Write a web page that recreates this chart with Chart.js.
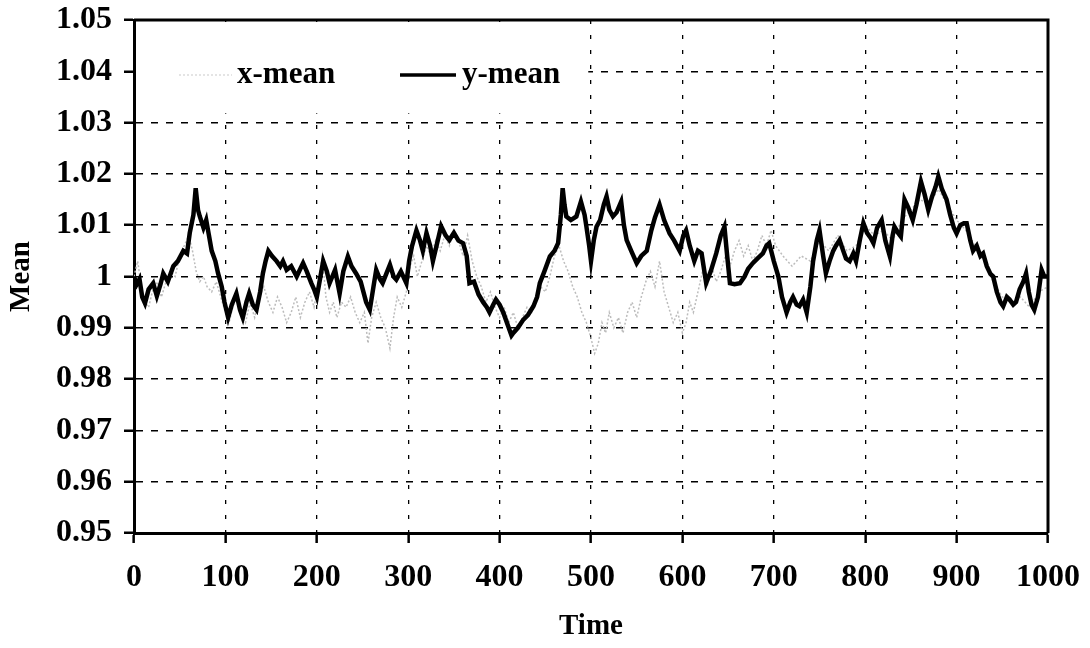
<!DOCTYPE html>
<html>
<head>
<meta charset="utf-8">
<title>Mean over time</title>
<script src="https://cdn.jsdelivr.net/npm/chart.js@4.4.1/dist/chart.umd.min.js"></script>
<style>
    html, body { margin: 0; padding: 0; background: #fff; }
    #chart { display: block; }
</style>
</head>
<body>
<canvas id="chart" width="1090" height="648"></canvas>
<script>
// --- Data ---
const yTickValues = [0.95, 0.96, 0.97, 0.98, 0.99, 1.00, 1.01, 1.02, 1.03, 1.04, 1.05];
const xTickValues = [0, 100, 200, 300, 400, 500, 600, 700, 800, 900, 1000];

const yMeanTimes = [
    0, 3, 6, 9, 12, 16, 21, 25, 29, 32, 37, 43, 48, 54, 58, 61, 65, 67.5, 70, 72,
    76, 79, 82, 85, 89, 92, 96, 99, 103, 107, 112, 116, 119, 123, 126, 130, 134, 138, 141, 144,
    147, 151, 156, 160, 163, 167, 172, 178, 182, 185, 189, 194, 197, 200, 204, 207, 211, 214, 217, 220,
    225, 229, 234, 238, 243, 248, 254, 258, 262, 265, 269, 272, 276, 280, 284, 287, 292, 298, 301, 304,
    309, 313, 316, 320, 324, 327, 331, 336, 341, 345, 350, 355, 360, 364, 367, 372, 377, 382, 386, 389,
    393, 396, 400, 404, 409, 413, 415, 420, 426, 431, 437, 441, 444, 449, 455, 460, 464, 467, 469, 471,
    473, 478, 484, 489, 493, 495, 498, 500, 503, 506, 510, 514, 517, 520, 524, 528, 533, 536, 539, 544,
    550, 555, 561, 566, 570, 575, 580, 586, 591, 597, 601, 604, 608, 613, 617, 621, 626, 631, 637, 642,
    646, 649, 652, 657, 663, 668, 672, 677, 682, 688, 692, 695, 700, 705, 709, 714, 718, 721, 725, 728,
    732, 736, 740, 743, 747, 750, 754, 757, 761, 765, 768, 772, 776, 779, 783, 787, 790, 794, 798, 802,
    806, 809, 813, 818, 822, 827, 830, 832, 836, 839, 843, 847, 852, 856, 861, 865, 869, 873, 877, 880,
    884, 889, 893, 897, 900, 904, 908, 911, 915, 918, 922, 926, 929, 933, 937, 940, 944, 948, 951, 955,
    958, 962, 965, 969, 973, 976, 979, 982, 985, 989, 993, 996, 1000
];
const yMeanValues = [
    1.0000, 0.9985, 0.9995, 0.9960, 0.9948, 0.9975, 0.9987, 0.9962, 0.9985, 1.0006, 0.9990, 1.0020, 1.0030, 1.0050, 1.0045, 1.0085, 1.0120, 1.0172, 1.0130, 1.0117,
    1.0095, 1.0110, 1.0080, 1.0050, 1.0030, 1.0006, 0.9980, 0.9950, 0.9920, 0.9945, 0.9967, 0.9935, 0.9920, 0.9950, 0.9967, 0.9945, 0.9935, 0.9970, 1.0006, 1.0030,
    1.0050, 1.0040, 1.0030, 1.0020, 1.0030, 1.0013, 1.0020, 1.0000, 1.0015, 1.0026, 1.0010, 0.9987, 0.9975, 0.9960, 1.0000, 1.0030, 1.0010, 0.9987, 1.0000, 1.0013,
    0.9967, 1.0010, 1.0039, 1.0020, 1.0006, 0.9990, 0.9950, 0.9935, 0.9980, 1.0013, 0.9995, 0.9987, 1.0005, 1.0023, 1.0000, 0.9994, 1.0010, 0.9987, 1.0030, 1.0058,
    1.0090, 1.0070, 1.0050, 1.0085, 1.0060, 1.0030, 1.0060, 1.0098, 1.0080, 1.0071, 1.0085, 1.0070, 1.0065, 1.0040, 0.9987, 0.9990, 0.9965, 0.9950, 0.9940, 0.9930,
    0.9945, 0.9955, 0.9945, 0.9930, 0.9905, 0.9885, 0.9890, 0.9900, 0.9916, 0.9925, 0.9942, 0.9960, 0.9987, 1.0010, 1.0039, 1.0050, 1.0065, 1.0120, 1.0172, 1.0140,
    1.0117, 1.0110, 1.0117, 1.0146, 1.0120, 1.0097, 1.0060, 1.0030, 1.0070, 1.0097, 1.0110, 1.0140, 1.0156, 1.0130, 1.0117, 1.0125, 1.0146, 1.0100, 1.0071, 1.0050,
    1.0026, 1.0040, 1.0050, 1.0090, 1.0115, 1.0140, 1.0110, 1.0084, 1.0070, 1.0050, 1.0080, 1.0090, 1.0060, 1.0030, 1.0050, 1.0045, 0.9987, 1.0010, 1.0045, 1.0080,
    1.0097, 1.0040, 0.9987, 0.9985, 0.9987, 1.0000, 1.0015, 1.0026, 1.0035, 1.0045, 1.0060, 1.0065, 1.0030, 1.0000, 0.9960, 0.9930, 0.9950, 0.9960, 0.9945, 0.9942,
    0.9955, 0.9930, 0.9980, 1.0030, 1.0070, 1.0090, 1.0040, 1.0006, 1.0030, 1.0050, 1.0060, 1.0071, 1.0050, 1.0035, 1.0030, 1.0045, 1.0030, 1.0070, 1.0104, 1.0085,
    1.0075, 1.0065, 1.0095, 1.0110, 1.0070, 1.0039, 1.0080, 1.0097, 1.0085, 1.0078, 1.0150, 1.0135, 1.0110, 1.0140, 1.0185, 1.0160, 1.0130, 1.0155, 1.0175, 1.0195,
    1.0170, 1.0150, 1.0120, 1.0095, 1.0084, 1.0100, 1.0104, 1.0104, 1.0070, 1.0050, 1.0060, 1.0040, 1.0045, 1.0020, 1.0005, 1.0000, 0.9970, 0.9950, 0.9942, 0.9960,
    0.9955, 0.9945, 0.9950, 0.9975, 0.9990, 1.0006, 0.9970, 0.9945, 0.9935, 0.9960, 1.0013, 1.0000, 1.0000
];

const xMeanTimes = [
    0, 4, 8, 12, 16, 20, 25, 30, 35, 40, 45, 50, 55, 60, 64, 68, 72, 76, 80, 85,
    90, 95, 100, 104, 108, 112, 117, 122, 127, 132, 137, 142, 147, 152, 157, 162, 167, 172, 177, 182,
    187, 192, 197, 202, 206, 210, 214, 218, 222, 227, 232, 237, 242, 247, 252, 256, 260, 265, 270, 275,
    280, 284, 288, 293, 298, 302, 306, 310, 315, 320, 325, 330, 335, 340, 345, 350, 355, 360, 365, 370,
    375, 380, 385, 390, 395, 400, 405, 410, 415, 420, 425, 430, 435, 440, 445, 450, 455, 460, 465, 470,
    475, 480, 485, 490, 495, 500, 504, 508, 512, 516, 520, 525, 530, 535, 540, 545, 550, 555, 560, 565,
    570, 575, 580, 585, 590, 595, 600, 604, 608, 612, 617, 622, 627, 632, 637, 642, 647, 652, 657, 662,
    667, 672, 677, 682, 687, 692, 697, 702, 710, 720, 730, 740, 750, 760, 770, 780, 790, 800, 810, 820,
    830, 840, 850, 860, 870, 880, 890, 900, 910, 920, 930, 940, 950, 960, 970, 980, 990, 1000
];
const xMeanValues = [
    1.000, 1.003, 0.998, 0.995, 0.994, 0.997, 0.999, 0.996, 0.999, 1.001, 1.000, 1.004, 1.006, 1.008, 1.005, 1.001, 0.999, 1.000, 0.998, 0.997,
    0.999, 0.996, 0.993, 0.991, 0.994, 0.996, 0.993, 0.991, 0.995, 0.992, 0.996, 0.998, 0.995, 0.993, 0.996, 0.994, 0.991, 0.993, 0.996, 0.992,
    0.995, 0.997, 0.994, 0.999, 1.004, 0.996, 0.993, 0.995, 0.992, 0.995, 0.994, 0.996, 0.993, 0.991, 0.993, 0.987, 0.992, 0.995, 0.992, 0.990,
    0.986, 0.992, 0.996, 0.994, 0.997, 1.002, 1.004, 1.000, 1.003, 1.006, 1.004, 1.007, 1.005, 1.008, 1.006, 1.009, 1.007, 1.004, 1.008, 1.003,
    1.000, 0.998, 0.995, 0.997, 0.994, 0.992, 0.994, 0.991, 0.993, 0.990, 0.992, 0.994, 0.993, 0.996, 0.998, 0.997, 1.000, 1.004, 1.006, 1.003,
    1.001, 0.998, 0.996, 0.993, 0.991, 0.988, 0.985, 0.987, 0.991, 0.989, 0.993, 0.990, 0.992, 0.989, 0.993, 0.995, 0.992, 0.996, 0.999, 1.001,
    0.998, 1.003, 0.997, 0.994, 0.991, 0.993, 0.989, 0.991, 0.995, 0.993, 0.997, 1.001, 0.998, 1.002, 0.999, 1.001, 1.004, 1.002, 1.005, 1.007,
    1.004, 1.006, 1.003, 1.005, 1.008, 1.006, 1.009, 1.006, 1.004, 1.002, 1.004, 1.003, 1.007, 1.005, 1.008, 1.005, 1.006, 1.010, 1.008, 1.009,
    1.007, 1.011, 1.013, 1.015, 1.014, 1.017, 1.014, 1.011, 1.009, 1.006, 1.003, 0.999, 0.996, 0.995, 0.996, 0.994, 0.997, 0.998
];

const seriesLabels = ['x-mean', 'y-mean'];
const axisTitles = { x: 'Time', y: 'Mean' };

// --- Helpers ---
const toPoints = (times, values) => times.map((t, i) => ({ x: t, y: values[i] }));
const FONT = "'Liberation Serif', 'Times New Roman', serif";

// White legend box inside the plot, drawn over the grid, like the original
const innerLegend = {
    id: 'innerLegend',
    beforeDatasetsDraw(chart) {
        const { ctx, chartArea, scales } = chart;
        const boxRight = scales.x.getPixelForValue(497);
        const boxBottom = scales.y.getPixelForValue(1.0318);
        ctx.save();
        ctx.fillStyle = '#fff';
        ctx.fillRect(chartArea.left + 2, chartArea.top + 2, boxRight - chartArea.left - 2, boxBottom - chartArea.top - 2);

        const rowY = chartArea.top + 55;
        ctx.font = `bold 31px ${FONT}`;
        ctx.textBaseline = 'middle';
        ctx.fillStyle = '#000';

        // x-mean: faint grey sample, nearly invisible as in the scan
        ctx.strokeStyle = '#dcdcdc';
        ctx.lineWidth = 1.5;
        ctx.setLineDash([2, 2]);
        ctx.beginPath();
        ctx.moveTo(chartArea.left + 45, rowY);
        ctx.lineTo(chartArea.left + 98, rowY);
        ctx.stroke();
        ctx.setLineDash([]);
        ctx.fillText(seriesLabels[0], chartArea.left + 103, rowY);

        // y-mean: thick black sample
        ctx.strokeStyle = '#000';
        ctx.lineWidth = 3.5;
        ctx.beginPath();
        ctx.moveTo(chartArea.left + 266, rowY);
        ctx.lineTo(chartArea.left + 322, rowY);
        ctx.stroke();
        ctx.fillText(seriesLabels[1], chartArea.left + 328, rowY);
        ctx.restore();
    },
    afterDraw(chart) {
        // top and right frame lines
        const { ctx, chartArea } = chart;
        ctx.save();
        ctx.strokeStyle = '#000';
        ctx.lineWidth = 3;
        ctx.beginPath();
        ctx.moveTo(chartArea.left, chartArea.top);
        ctx.lineTo(chartArea.right, chartArea.top);
        ctx.lineTo(chartArea.right, chartArea.bottom);
        ctx.stroke();
        ctx.restore();
    }
};

const ctx = document.getElementById('chart').getContext('2d');
new Chart(ctx, {
    type: 'line',
    data: {
        datasets: [
            {
                label: seriesLabels[0],
                data: toPoints(xMeanTimes, xMeanValues),
                borderColor: '#bcbcbc',
                borderWidth: 1.5,
                borderDash: [2, 2],
                pointRadius: 0,
                tension: 0,
                order: 1
            },
            {
                label: seriesLabels[1],
                data: toPoints(yMeanTimes, yMeanValues),
                borderColor: '#000',
                borderWidth: 4.5,
                pointRadius: 0,
                tension: 0,
                order: 0
            }
        ]
    },
    options: {
        responsive: false,
        animation: false,
        devicePixelRatio: 1,
        layout: { padding: { top: 20, right: 42, left: 0, bottom: 0 } },
        plugins: {
            legend: { display: false },
            tooltip: { enabled: false }
        },
        scales: {
            x: {
                type: 'linear',
                min: 0,
                max: 1000,
                afterBuildTicks: (scale) => { scale.ticks = xTickValues.map(v => ({ value: v })); },
                afterFit: (scale) => {
                    scale.height = 115;
                    scale.paddingLeft = 0;
                    scale.paddingRight = 0;
                },
                border: { display: true, color: '#000', width: 3, dash: [4, 11] },
                grid: {
                    color: '#000',
                    lineWidth: 1.3,
                    drawTicks: true,
                    tickLength: 10,
                    tickColor: '#000',
                    tickWidth: 2.5,
                    tickBorderDash: []
                },
                ticks: {
                    color: '#000',
                    padding: 16,
                    maxRotation: 0,
                    autoSkip: false,
                    font: { family: FONT, size: 32, weight: 'bold' },
                    callback: (v) => String(v)
                },
                title: {
                    display: true,
                    text: axisTitles.x,
                    color: '#000',
                    padding: { top: 0, bottom: 4 },
                    font: { family: FONT, size: 29, weight: 'bold' }
                }
            },
            y: {
                type: 'linear',
                min: 0.95,
                max: 1.05,
                afterBuildTicks: (scale) => { scale.ticks = yTickValues.map(v => ({ value: v })); },
                afterFit: (scale) => {
                    scale.width = 134;
                    scale.paddingTop = 0;
                    scale.paddingBottom = 0;
                },
                border: { display: true, color: '#000', width: 3, dash: [7, 8] },
                grid: {
                    color: '#000',
                    lineWidth: 1.5,
                    drawTicks: true,
                    tickLength: 10,
                    tickColor: '#000',
                    tickWidth: 2.5,
                    tickBorderDash: []
                },
                ticks: {
                    color: '#000',
                    padding: 12,
                    autoSkip: false,
                    font: { family: FONT, size: 32, weight: 'bold' },
                    callback: (v) => String(parseFloat(Number(v).toFixed(2)))
                },
                title: {
                    display: true,
                    text: axisTitles.y,
                    color: '#000',
                    padding: { top: 4, bottom: 0 },
                    font: { family: FONT, size: 29, weight: 'bold' }
                }
            }
        }
    },
    plugins: [innerLegend]
});
</script>
</body>
</html>
